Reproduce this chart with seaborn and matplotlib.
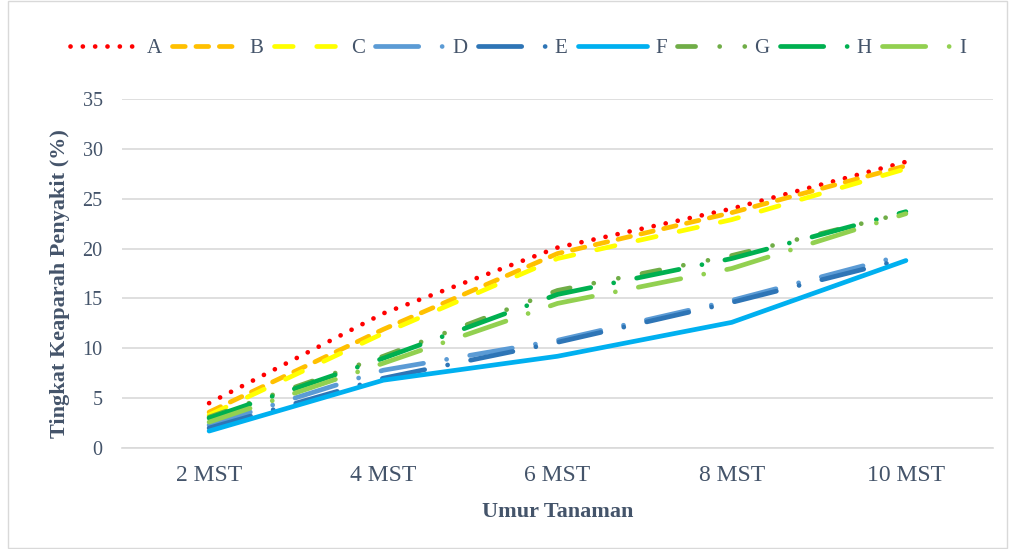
import matplotlib
matplotlib.use("Agg")
import matplotlib.pyplot as plt
import matplotlib.patches as mpatches
import numpy as np
import pandas as pd
import seaborn as sns

# Umur tanaman (minggu setelah tanam)
umur = ["2 MST", "4 MST", "6 MST", "8 MST", "10 MST"]

# Tingkat keparahan penyakit (%) per perlakuan
A = [4.5, 13.5, 20.1, 24.0, 28.7]
B = [3.6, 11.9, 19.5, 23.6, 28.3]
C = [3.3, 11.5, 19.0, 22.9, 28.0]
D = [2.3, 7.8, 10.8, 14.8, 19.4]
E = [2.0, 7.0, 10.6, 14.6, 19.0]
F = [1.7, 6.8, 9.2, 12.6, 18.8]
G = [3.1, 9.2, 15.8, 19.3, 23.6]
H = [3.0, 9.0, 15.4, 19.0, 23.7]
I = [2.6, 8.5, 14.5, 18.0, 23.5]

perlakuan = ["A", "B", "C", "D", "E", "F", "G", "H", "I"]
nilai = [A, B, C, D, E, F, G, H, I]

warna = {
    "A": "#FF0000", "B": "#FFC000", "C": "#FFFF00",
    "D": "#5B9BD5", "E": "#2E75B6", "F": "#00B0F0",
    "G": "#70AD47", "H": "#00B050", "I": "#92D050",
}
# dash patterns, in multiples of the line width
garis = {
    "A": (0.01, 2.6),
    "B": (2.7, 2.26),
    "C": (3.96, 4.98),
    "D": (9.15, 4.96, 0.01, 4.96),
    "E": (9.15, 4.96, 0.01, 4.96),
    "F": "",
    "G": (3.83, 5.1, 0.01, 5.3, 0.01, 5.1),
    "H": (9.15, 4.96, 0.01, 4.96),
    "I": (9.15, 4.96, 0.01, 4.96),
}

rows = []
for p, vals in zip(perlakuan, nilai):
    for u, v in zip(umur, vals):
        rows.append({"Umur": u, "Nilai": v, "Perlakuan": p})
df = pd.DataFrame(rows)
df["pos"] = df["Umur"].map({u: i for i, u in enumerate(umur)})

sns.set_theme(style="white")
plt.rcParams["font.family"] = ["Liberation Serif", "DejaVu Serif"]
teks = "#44546A"

fig = plt.figure(figsize=(10.09, 5.49), dpi=100)
ax = fig.add_axes([122 / 1009, 1 - 448 / 549, (993 - 122) / 1009, (448 - 99) / 549])

sns.lineplot(data=df, x="pos", y="Nilai", hue="Perlakuan", style="Perlakuan",
             palette=warna, dashes=garis, hue_order=perlakuan, style_order=perlakuan,
             linewidth=3.4, ax=ax, legend=True, sort=False)

for ln in ax.get_lines():
    ln.set_dash_capstyle("round")
    ln.set_solid_capstyle("round")
    ln.set_solid_joinstyle("round")

ax.set_xlim(-0.5, len(umur) - 0.5)
ax.set_ylim(0, 35)
ax.set_yticks(np.arange(0, 36, 5))
ax.set_xticks(range(len(umur)))
ax.set_xticklabels(umur)
ax.set_xticks(np.arange(-0.5, len(umur), 1.0), minor=True)

ax.grid(axis="y", color="#D9D9D9", linewidth=1.2)
ax.set_axisbelow(True)
for s in ["top", "right", "left"]:
    ax.spines[s].set_visible(False)
ax.spines["bottom"].set_color("#D9D9D9")
ax.spines["bottom"].set_linewidth(1.2)

ax.tick_params(axis="x", which="major", length=0, pad=12, labelsize=17, labelcolor=teks)
ax.tick_params(axis="x", which="minor", length=6, width=1.2, color="#D9D9D9", direction="out")
ax.tick_params(axis="y", length=0, pad=14, labelsize=14.5, labelcolor=teks)

ax.set_xlabel("Umur Tanaman", fontsize=16, fontweight="bold", color=teks, labelpad=12)
ax.set_ylabel("Tingkat Keaparah Penyakit (%)", fontsize=16, fontweight="bold", color=teks)
ax.yaxis.set_label_coords(-0.060, 0.47)

handles, labels = ax.get_legend_handles_labels()
for h in handles:
    h.set_dash_capstyle("round")
    h.set_solid_capstyle("round")
leg = ax.legend(handles, labels, loc="center", ncol=9, frameon=False, fontsize=15,
                handlelength=3.3, handletextpad=0.4, columnspacing=0.5,
                labelcolor=teks, borderaxespad=0, borderpad=0)
leg.set_bbox_to_anchor((518 / 1009, 1 - 48 / 549), transform=fig.transFigure)

fig.patches.append(mpatches.Rectangle((8 / 1009, 1 / 549), 999 / 1009, 547 / 549,
                                      transform=fig.transFigure, fill=False,
                                      edgecolor="#D9D9D9", linewidth=1))

fig.savefig("out.png", dpi=100)
